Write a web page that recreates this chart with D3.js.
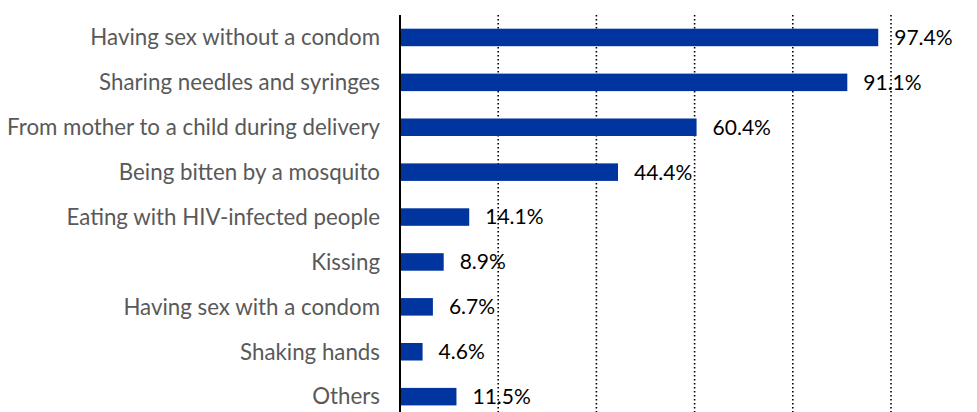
<!DOCTYPE html>
<html>
<head>
<meta charset="utf-8">
<script src="https://cdn.jsdelivr.net/npm/d3@7"></script>
<style>
  html, body { margin: 0; padding: 0; background: #fff; }
  svg { display: block; }
</style>
</head>
<body>
<svg id="chart" width="977" height="412"></svg>
<script>
// Reported ways of HIV transmission (% of respondents)
const categories = [
  "Having sex without a condom",
  "Sharing needles and syringes",
  "From mother to a child during delivery",
  "Being bitten by a mosquito",
  "Eating with HIV-infected people",
  "Kissing",
  "Having sex with a condom",
  "Shaking hands",
  "Others"
];
const values = [97.4, 91.1, 60.4, 44.4, 14.1, 8.9, 6.7, 4.6, 11.5];
const gridTicks = [20, 40, 60, 80, 100];

const svg = d3.select("#chart");
const W = 977, H = 412;
const plotLeft = 400, plotTop = 15;

const x = d3.scaleLinear().domain([0, 100]).range([plotLeft, 891]);
const y = d3.scaleBand().domain(categories).range([plotTop, plotTop + 9 * 44.9]).paddingInner(0.61).paddingOuter(0.305);

// dotted vertical gridlines
svg.append("g")
  .selectAll("line")
  .data(gridTicks)
  .join("line")
  .attr("x1", d => x(d)).attr("x2", d => x(d))
  .attr("y1", plotTop).attr("y2", H)
  .attr("stroke", "#000")
  .attr("stroke-width", 1.6)
  .attr("stroke-dasharray", "1.6,2.4");

const data = categories.map((c, i) => ({ c, v: values[i] }));

// bars
svg.append("g")
  .selectAll("rect")
  .data(data)
  .join("rect")
  .attr("x", x(0))
  .attr("y", d => y(d.c))
  .attr("width", d => x(d.v) - x(0))
  .attr("height", y.bandwidth())
  .attr("fill", "#00349e");

// value axis baseline
svg.append("line")
  .attr("x1", x(0)).attr("x2", x(0))
  .attr("y1", plotTop).attr("y2", H)
  .attr("stroke", "#000").attr("stroke-width", 2);

// category labels
svg.append("g")
  .selectAll("text")
  .data(data)
  .join("text")
  .attr("x", 380)
  .attr("y", d => y(d.c) + y.bandwidth() / 2)
  .attr("dy", "0.35em")
  .attr("text-anchor", "end")
  .attr("font-family", "Lato, 'Open Sans', sans-serif")
  .attr("font-size", 22.3)
  .attr("fill", "#595959")
  .text(d => d.c);

// value labels
svg.append("g")
  .selectAll("text")
  .data(data)
  .join("text")
  .attr("x", d => x(d.v) + 16)
  .attr("y", d => y(d.c) + y.bandwidth() / 2)
  .attr("dy", "0.35em")
  .attr("font-family", "Lato, 'Open Sans', sans-serif")
  .attr("font-size", 21)
  .attr("fill", "#000")
  .text(d => d.v.toFixed(1) + "%");
</script>
</body>
</html>
